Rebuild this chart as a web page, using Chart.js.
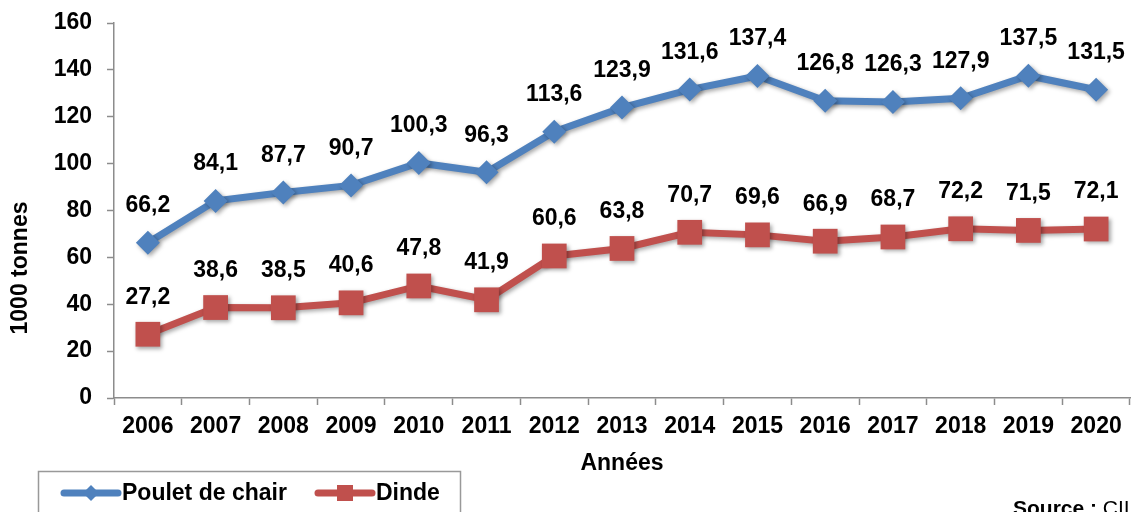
<!DOCTYPE html>
<html>
<head>
<meta charset="utf-8">
<script src="https://cdn.jsdelivr.net/npm/chart.js@4/dist/chart.umd.min.js"></script>
<style>
html,body{margin:0;padding:0;background:#fff;overflow:hidden;}
canvas{display:block;}
</style>
</head>
<body>
<canvas id="c" width="1131" height="512" style="width:1131px;height:512px;"></canvas>
<script>
const years = ['2006','2007','2008','2009','2010','2011','2012','2013','2014','2015','2016','2017','2018','2019','2020'];
const pouletValues = [66.2, 84.1, 87.7, 90.7, 100.3, 96.3, 113.6, 123.9, 131.6, 137.4, 126.8, 126.3, 127.9, 137.5, 131.5];
const dindeValues = [27.2, 38.6, 38.5, 40.6, 47.8, 41.9, 60.6, 63.8, 70.7, 69.6, 66.9, 68.7, 72.2, 71.5, 72.1];
const seriesNames = ['Poulet de chair', 'Dinde'];
const yTicks = [0, 20, 40, 60, 80, 100, 120, 140, 160];
const yTitle = '1000 tonnes';
const xTitle = 'Années';
const sourceBold = 'Source :';
const sourceText = ' CII';

const BLUE = '#4F81BD';
const RED = '#C0504D';
const AXIS = '#8c8c8c';
const FONT = '"Liberation Sans", Arial, sans-serif';

const fmt = v => v.toFixed(1).replace('.', ',');

const shadowPlugin = {
  id: 'shadow',
  beforeDatasetDraw(chart) {
    const ctx = chart.ctx;
    ctx.save();
    ctx.shadowColor = 'rgba(0,0,0,0.35)';
    ctx.shadowBlur = 4;
    ctx.shadowOffsetX = 2;
    ctx.shadowOffsetY = 2;
  },
  afterDatasetDraw(chart) {
    chart.ctx.restore();
  }
};

const labelsPlugin = {
  id: 'dataLabels',
  afterDatasetsDraw(chart) {
    const ctx = chart.ctx;
    ctx.save();
    ctx.font = 'bold 23px ' + FONT;
    ctx.fillStyle = '#000';
    ctx.textAlign = 'center';
    ctx.textBaseline = 'middle';
    chart.data.datasets.forEach((ds, i) => {
      const meta = chart.getDatasetMeta(i);
      meta.data.forEach((pt, j) => {
        ctx.fillText(fmt(ds.data[j]), pt.x, pt.y - 37);
      });
    });
    ctx.restore();
  }
};

const extrasPlugin = {
  id: 'extras',
  afterDraw(chart) {
    const ctx = chart.ctx;
    ctx.save();
    ctx.font = 'bold 23px ' + FONT;
    ctx.fillStyle = '#000';
    ctx.textAlign = 'center';
    ctx.textBaseline = 'middle';
    ctx.translate(21, 268);
    ctx.rotate(-Math.PI / 2);
    ctx.fillText(yTitle, 0, 0);
    ctx.restore();

    ctx.save();
    ctx.strokeStyle = '#999';
    ctx.lineWidth = 1.5;
    ctx.strokeRect(38.5, 471.5, 422, 60);
    const ly = 493;
    ctx.strokeStyle = BLUE;
    ctx.lineWidth = 7;
    ctx.lineCap = 'round';
    ctx.beginPath(); ctx.moveTo(64, ly); ctx.lineTo(118, ly); ctx.stroke();
    ctx.fillStyle = BLUE;
    ctx.beginPath();
    ctx.moveTo(91, ly - 8); ctx.lineTo(99, ly); ctx.lineTo(91, ly + 8); ctx.lineTo(83, ly); ctx.closePath(); ctx.fill();
    ctx.strokeStyle = RED;
    ctx.beginPath(); ctx.moveTo(318, ly); ctx.lineTo(372, ly); ctx.stroke();
    ctx.fillStyle = RED;
    ctx.fillRect(337, ly - 8, 16, 16);
    ctx.font = 'bold 23px ' + FONT;
    ctx.fillStyle = '#000';
    ctx.textAlign = 'left';
    ctx.textBaseline = 'middle';
    ctx.fillText(seriesNames[0], 122, ly + 1);
    ctx.fillText(seriesNames[1], 376, ly + 1);
    ctx.textBaseline = 'top';
    ctx.font = 'bold 21px ' + FONT;
    ctx.fillText(sourceBold, 1013, 499);
    const w = ctx.measureText(sourceBold).width;
    ctx.font = '21px ' + FONT;
    ctx.fillText(sourceText, 1013 + w, 499);
    ctx.restore();
  }
};

new Chart(document.getElementById('c'), {
  type: 'line',
  data: {
    labels: years,
    datasets: [
      {
        label: seriesNames[0],
        data: pouletValues,
        borderColor: BLUE,
        backgroundColor: BLUE,
        borderWidth: 7,
        pointStyle: 'rectRot',
        pointRadius: 12,
        pointHoverRadius: 12,
        pointBorderWidth: 0,
        tension: 0,
        clip: false
      },
      {
        label: seriesNames[1],
        data: dindeValues,
        borderColor: RED,
        backgroundColor: RED,
        borderWidth: 7,
        pointStyle: 'rect',
        pointRadius: 17.5,
        pointHoverRadius: 17.5,
        pointBorderWidth: 0,
        tension: 0,
        clip: false
      }
    ]
  },
  options: {
    responsive: false,
    animation: false,
    events: [],
    layout: { autoPadding: false, padding: { top: 23, right: 1, bottom: 34, left: 0 } },
    plugins: {
      legend: { display: false },
      tooltip: { enabled: false }
    },
    scales: {
      x: {
        type: 'category',
        offset: true,
        grid: { offset: true, drawOnChartArea: false, tickLength: 7, tickColor: AXIS, tickWidth: 1.5 },
        border: { color: AXIS, width: 1.5 },
        ticks: { color: '#000', font: { family: FONT, size: 23, weight: 'bold' }, padding: 8, maxRotation: 0, autoSkip: false },
        title: { display: true, text: xTitle, color: '#000', font: { family: FONT, size: 23, weight: 'bold' }, padding: { top: 0, bottom: 1 } },
        afterFit(scale) { scale.height = 80; scale.paddingLeft = 0; scale.paddingRight = 0; }
      },
      y: {
        min: 0,
        max: 160,
        afterBuildTicks(scale) { scale.ticks = yTicks.map(v => ({ value: v })); },
        grid: { drawOnChartArea: false, tickLength: 7, tickColor: AXIS, tickWidth: 1.5 },
        border: { color: AXIS, width: 1.5 },
        ticks: { color: '#000', font: { family: FONT, size: 23, weight: 'bold' }, padding: 15 },
        afterFit(scale) { scale.width = 114; scale.paddingTop = 0; scale.paddingBottom = 0; }
      }
    }
  },
  plugins: [shadowPlugin, labelsPlugin, extrasPlugin]
});
</script>
</body>
</html>
